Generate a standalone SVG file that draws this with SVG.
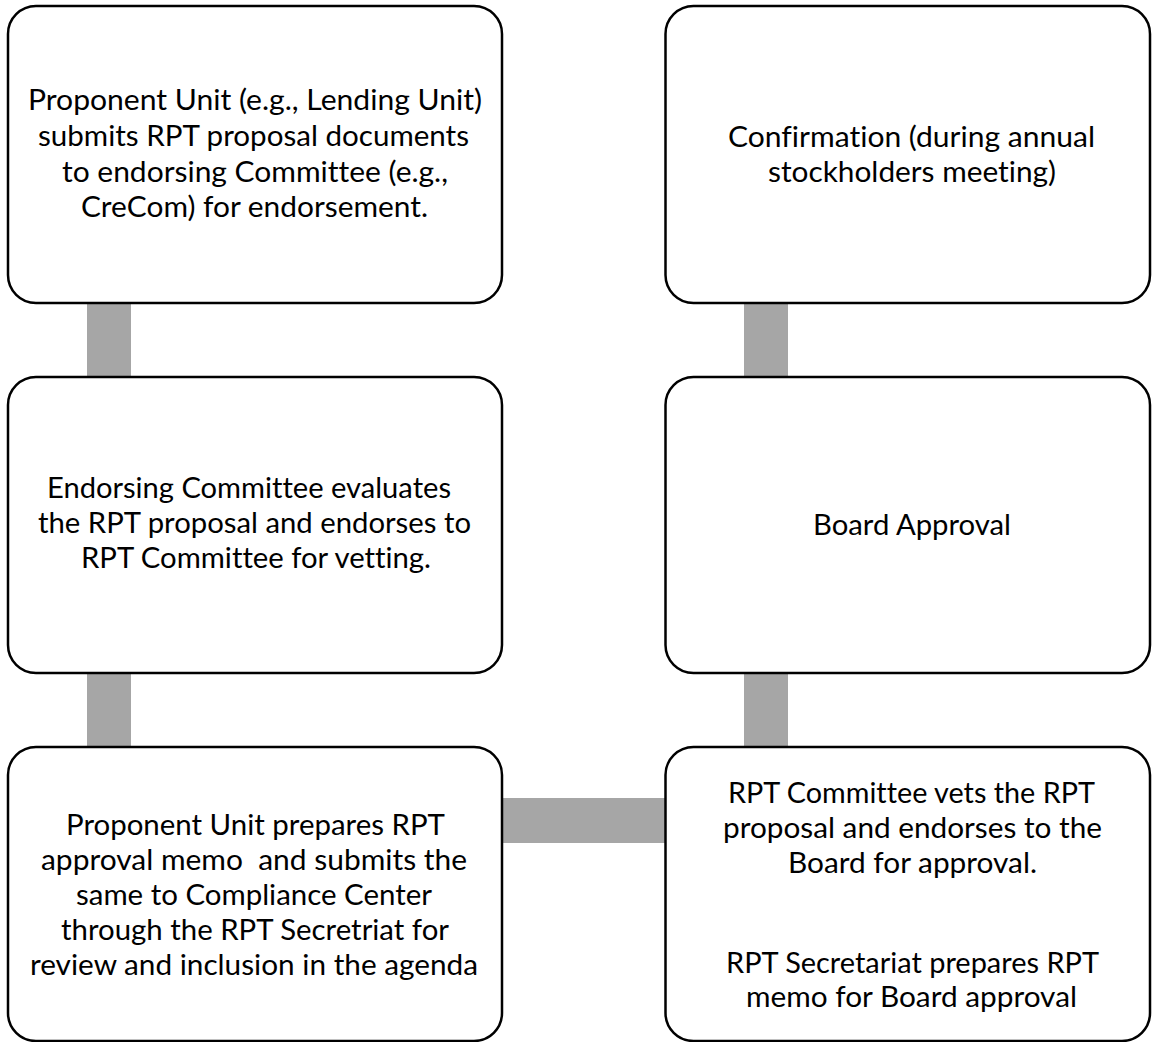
<svg xmlns="http://www.w3.org/2000/svg" width="1152" height="1042" viewBox="0 0 1152 1042">
  <style>
    .box { fill: #ffffff; stroke: #000000; stroke-width: 2.5; }
    .conn { fill: #a6a6a6; stroke: none; }
    .t { font-family: Lato, "Open Sans", "Liberation Sans", sans-serif; font-size: 28.5px; fill: #000000; font-variant-ligatures: none; }
  </style>
  <rect width="1152" height="1042" fill="#ffffff"/>
  <g id="connectors">
    <rect class="conn" x="87" y="302" width="44" height="76"/>
    <rect class="conn" x="87" y="672" width="44" height="76"/>
    <rect class="conn" x="744" y="302" width="44" height="76"/>
    <rect class="conn" x="744" y="672" width="44" height="76"/>
    <rect class="conn" x="501" y="798" width="165" height="45"/>
  </g>
  <g id="node-submit">
    <rect class="box" x="8" y="6" width="494" height="297" rx="28" ry="28"/>
    <text class="t" x="28" y="110" textLength="454" lengthAdjust="spacingAndGlyphs">Proponent Unit (e.g., Lending Unit)</text>
    <text class="t" x="38" y="146" textLength="431" lengthAdjust="spacingAndGlyphs">submits RPT proposal documents</text>
    <text class="t" x="62" y="182" textLength="386" lengthAdjust="spacingAndGlyphs">to endorsing Committee (e.g.,</text>
    <text class="t" x="81" y="217" textLength="347" lengthAdjust="spacingAndGlyphs">CreCom) for endorsement.</text>
  </g>
  <g id="node-endorse">
    <rect class="box" x="8" y="377" width="494" height="296" rx="28" ry="28"/>
    <text class="t" x="47" y="498" textLength="404" lengthAdjust="spacingAndGlyphs">Endorsing Committee evaluates</text>
    <text class="t" x="38" y="533" textLength="433" lengthAdjust="spacingAndGlyphs">the RPT proposal and endorses to</text>
    <text class="t" x="81" y="568" textLength="350" lengthAdjust="spacingAndGlyphs">RPT Committee for vetting.</text>
  </g>
  <g id="node-memo">
    <rect class="box" x="8" y="747" width="494" height="294" rx="28" ry="28"/>
    <text class="t" x="66" y="835" textLength="379" lengthAdjust="spacingAndGlyphs">Proponent Unit prepares RPT</text>
    <text class="t" x="41" y="870" textLength="426" lengthAdjust="spacingAndGlyphs" xml:space="preserve">approval memo  and submits the</text>
    <text class="t" x="76" y="905" textLength="356" lengthAdjust="spacingAndGlyphs">same to Compliance Center</text>
    <text class="t" x="61" y="940" textLength="388" lengthAdjust="spacingAndGlyphs">through the RPT Secretriat for</text>
    <text class="t" x="30" y="975" textLength="448" lengthAdjust="spacingAndGlyphs">review and inclusion in the agenda</text>
  </g>
  <g id="node-vet">
    <rect class="box" x="665.5" y="747" width="484.5" height="294" rx="28" ry="28"/>
    <text class="t" x="728" y="803" textLength="367" lengthAdjust="spacingAndGlyphs">RPT Committee vets the RPT</text>
    <text class="t" x="723" y="838" textLength="379" lengthAdjust="spacingAndGlyphs">proposal and endorses to the</text>
    <text class="t" x="788" y="873" textLength="249" lengthAdjust="spacingAndGlyphs">Board for approval.</text>
    <text class="t" x="726" y="973" textLength="373" lengthAdjust="spacingAndGlyphs">RPT Secretariat prepares RPT</text>
    <text class="t" x="746" y="1007" textLength="331" lengthAdjust="spacingAndGlyphs">memo for Board approval</text>
  </g>
  <g id="node-board">
    <rect class="box" x="665.5" y="377" width="484.5" height="296" rx="28" ry="28"/>
    <text class="t" x="813" y="535" textLength="198" lengthAdjust="spacingAndGlyphs">Board Approval</text>
  </g>
  <g id="node-confirm">
    <rect class="box" x="665.5" y="6" width="484.5" height="297" rx="28" ry="28"/>
    <text class="t" x="728" y="147" textLength="367" lengthAdjust="spacingAndGlyphs">Confirmation (during annual</text>
    <text class="t" x="768" y="182" textLength="288" lengthAdjust="spacingAndGlyphs">stockholders meeting)</text>
  </g>
</svg>
